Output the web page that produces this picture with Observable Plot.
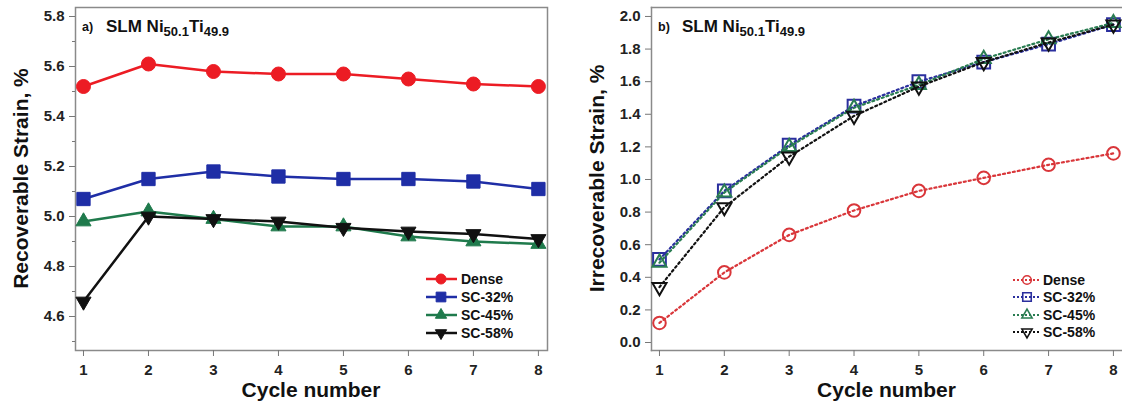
<!DOCTYPE html>
<html>
<head>
<meta charset="utf-8">
<script src="https://cdn.jsdelivr.net/npm/d3@7"></script>
<script src="https://cdn.jsdelivr.net/npm/@observablehq/plot@0.6"></script>
<style>
  body { margin: 0; background: #fff; }
  #wrap { display: flex; width: 1122px; height: 405px; }
  svg text { font-family: "Liberation Sans", Arial, sans-serif; }
  svg g[aria-label$="tick label"] { font-size: 15px; font-weight: bold; }
</style>
</head>
<body>
<div id="wrap"></div>
<script>
// ---------- data ----------
const cycles = [1, 2, 3, 4, 5, 6, 7, 8];
const seriesNames = ["Dense", "SC-32%", "SC-45%", "SC-58%"];

// Panel a) Recoverable strain, %
const recDense = [5.52, 5.61, 5.58, 5.57, 5.57, 5.55, 5.53, 5.52];
const recSC32  = [5.07, 5.15, 5.18, 5.16, 5.15, 5.15, 5.14, 5.11];
const recSC45  = [4.98, 5.02, 4.99, 4.96, 4.96, 4.92, 4.90, 4.89];
const recSC58  = [4.66, 5.00, 4.99, 4.98, 4.955, 4.94, 4.93, 4.91];

// Panel b) Irrecoverable strain, %
const irrDense = [0.12, 0.43, 0.66, 0.81, 0.93, 1.01, 1.09, 1.16];
const irrSC32  = [0.51, 0.93, 1.21, 1.45, 1.60, 1.72, 1.83, 1.95];
const irrSC45  = [0.49, 0.92, 1.20, 1.44, 1.58, 1.74, 1.86, 1.96];
const irrSC58  = [0.34, 0.83, 1.14, 1.39, 1.57, 1.72, 1.84, 1.95];

const recYTicks = [4.6, 4.8, 5.0, 5.2, 5.4, 5.6, 5.8];
const recYMinor = [4.5, 4.7, 4.9, 5.1, 5.3, 5.5, 5.7];
const irrYTicks = [0.0, 0.2, 0.4, 0.6, 0.8, 1.0, 1.2, 1.4, 1.6, 1.8, 2.0];

const recLabel = "Recoverable Strain, %";
const irrLabel = "Irrecoverable Strain, %";
const xLabel = "Cycle number";

// ---------- styling ----------
const FONT = '"Liberation Sans", Arial, sans-serif';
const fillColors = ["#ec1c24", "#1f2ea6", "#1f7a4c", "#111111"];
const dotColors  = ["#d9363a", "#2b2f9e", "#2a7d52", "#111111"];
const triDown = {
  draw(ctx, size) {
    const y = -Math.sqrt(size / (3 * Math.sqrt(3)));
    ctx.moveTo(0, -2 * y);
    ctx.lineTo(-Math.sqrt(3) * y, y);
    ctx.lineTo(Math.sqrt(3) * y, y);
    ctx.closePath();
  }
};
const symbols = [d3.symbolCircle, d3.symbolSquare, d3.symbolTriangle, triDown];

function tidy(arrays) {
  const rows = [];
  arrays.forEach((vals, s) => vals.forEach((v, i) => rows.push({series: seriesNames[s], s, cycle: cycles[i], value: v})));
  return rows;
}
const recRows = tidy([recDense, recSC32, recSC45, recSC58]);
const irrRows = tidy([irrDense, irrSC32, irrSC45, irrSC58]);

function addTitle(svg, x0, letter) {
  const g = d3.select(svg);
  g.append("text").attr("x", x0 + 7).attr("y", 31).attr("text-anchor", "start")
    .attr("font-size", 12.5).attr("font-weight", "bold").attr("fill", "#111").text(letter);
  const t = g.append("text").attr("x", x0 + 31).attr("y", 32).attr("text-anchor", "start")
    .attr("font-size", 17).attr("font-weight", "bold").attr("fill", "#111");
  t.append("tspan").text("SLM Ni");
  t.append("tspan").attr("dy", 4).attr("font-size", 13).text("50.1");
  t.append("tspan").attr("dy", -4).text("Ti");
  t.append("tspan").attr("dy", 4).attr("font-size", 13).text("49.9");
}

function addAxisLabels(svg, frameLeft, frameRight, yText) {
  const g = d3.select(svg);
  g.append("text").attr("text-anchor", "middle").attr("dy", "0.35em")
    .attr("transform", `translate(${frameLeft - 54},${(7 + 350) / 2}) rotate(-90)`)
    .attr("font-size", 21).attr("font-weight", "bold").attr("fill", "#111").text(yText);
  g.append("text").attr("text-anchor", "middle").attr("dy", "0.35em")
    .attr("x", (frameLeft + frameRight) / 2).attr("y", 390)
    .attr("font-size", 21).attr("font-weight", "bold").attr("fill", "#111").text(xLabel);
}

function addLegend(svg, cfg) {
  const g = d3.select(svg).append("g");
  seriesNames.forEach((name, i) => {
    const y = cfg.rows[i];
    const col = cfg.colors[i];
    g.append("line").attr("x1", cfg.x1).attr("x2", cfg.x2).attr("y1", y).attr("y2", y)
      .attr("stroke", col).attr("stroke-width", cfg.lineWidth)
      .attr("stroke-dasharray", cfg.dash || null);
    const r = cfg.r[i];
    g.append("path").attr("transform", `translate(${cfg.xm},${y})`)
      .attr("d", d3.symbol(symbols[i], Math.PI * r * r)())
      .attr("fill", cfg.open ? "none" : col)
      .attr("stroke", col).attr("stroke-width", cfg.open ? 1.6 : 1);
    g.append("text").attr("x", cfg.xt).attr("y", y).attr("dy", "0.36em").attr("text-anchor", "start")
      .attr("font-size", 14).attr("font-weight", "bold").attr("fill", "#111").text(name);
  });
}

// ---------- panel a ----------
const leftR = [7, 7.5, 5.6, 5.6];
const plotA = Plot.plot({
  width: 560, height: 405,
  marginLeft: 75, marginRight: 13, marginTop: 7, marginBottom: 55,
  style: {fontFamily: FONT, fontSize: "15px", fontWeight: "bold", color: "#222", background: "transparent"},
  x: {domain: [0.877, 8.14]},
  y: {domain: [4.464, 5.836]},
  marks: [
    Plot.frame({stroke: "#8a8a8a", strokeWidth: 1.5}),
    Plot.axisY({ticks: recYTicks, tickSize: 6, tickPadding: 5, stroke: "#777", fill: "#222", label: null, tickFormat: d => d.toFixed(1)}),
    Plot.axisY({ticks: recYMinor, tickSize: 3, tickFormat: () => "", stroke: "#777", label: null}),
    Plot.axisX({ticks: cycles, tickSize: 6, tickPadding: 8, stroke: "#777", fill: "#222", label: null, tickFormat: d3.format("d")}),
    ...seriesNames.flatMap((name, i) => {
      const data = recRows.filter(d => d.s === i);
      return [
        Plot.line(data, {x: "cycle", y: "value", stroke: fillColors[i], strokeWidth: 2.5}),
        Plot.dot(data, {x: "cycle", y: "value", fill: fillColors[i], stroke: fillColors[i], strokeWidth: 1, r: leftR[i], symbol: () => symbols[i]})
      ];
    })
  ]
});
addTitle(plotA, 75, "a)");
addAxisLabels(plotA, 75, 547, recLabel);
addLegend(plotA, {rows: [279, 297, 315, 333], x1: 426, x2: 457, xm: 441, xt: 461,
  colors: fillColors, lineWidth: 2.5, r: [5, 5.5, 4.2, 4.2], open: false});

// ---------- panel b ----------
const rightR = [6.3, 7.2, 5.2, 5.2];
const plotB = Plot.plot({
  width: 562, height: 405,
  marginLeft: 91, marginRight: 0, marginTop: 7, marginBottom: 55,
  style: {fontFamily: FONT, fontSize: "15px", fontWeight: "bold", color: "#222", background: "transparent"},
  x: {domain: [0.877, 8.14]},
  y: {domain: [-0.049, 2.055]},
  marks: [
    Plot.frame({anchor: "left", stroke: "#8a8a8a", strokeWidth: 1.5}),
    Plot.frame({anchor: "top", stroke: "#8a8a8a", strokeWidth: 1.5}),
    Plot.frame({anchor: "bottom", stroke: "#8a8a8a", strokeWidth: 1.5}),
    Plot.axisY({ticks: irrYTicks, tickSize: 6, tickPadding: 5, stroke: "#777", fill: "#222", label: null, tickFormat: d => d.toFixed(1)}),
    Plot.axisX({ticks: cycles, tickSize: 6, tickPadding: 8, stroke: "#777", fill: "#222", label: null, tickFormat: d3.format("d")}),
    ...seriesNames.flatMap((name, i) => {
      const data = irrRows.filter(d => d.s === i);
      return [
        Plot.line(data, {x: "cycle", y: "value", stroke: dotColors[i], strokeWidth: 2.2, strokeDasharray: "2,3"}),
        Plot.dot(data, {x: "cycle", y: "value", fill: "none", stroke: dotColors[i], strokeWidth: 2, r: rightR[i], symbol: () => symbols[i]})
      ];
    })
  ]
});
addTitle(plotB, 91, "b)");
addAxisLabels(plotB, 91, 562, irrLabel);
addLegend(plotB, {rows: [280, 297, 315, 332], x1: 453, x2: 481, xm: 467, xt: 483,
  colors: dotColors, lineWidth: 2, dash: "2,2", r: [4.3, 4.8, 3.8, 3.8], open: true});

document.getElementById("wrap").append(plotA, plotB);
</script>
</body>
</html>
